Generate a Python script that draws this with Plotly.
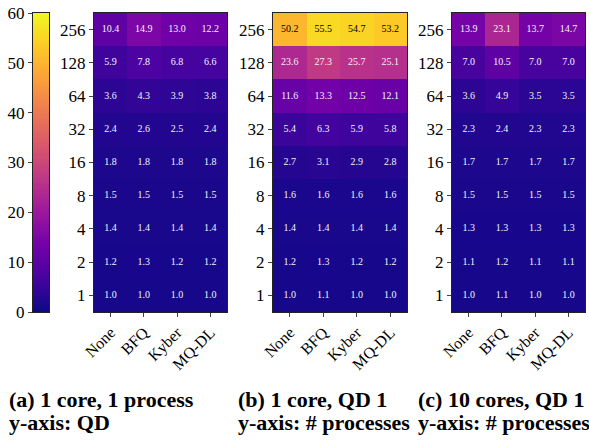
import numpy as np
import plotly.graph_objects as go

# ---------------- data ----------------
schedulers = ["None", "BFQ", "Kyber", "MQ-DL"]
y_labels = ["1", "2", "4", "8", "16", "32", "64", "128", "256"]

# rows ordered bottom (1) to top (256), columns follow `schedulers`
qd_1core_1proc = [
    [1.0, 1.0, 1.0, 1.0],
    [1.2, 1.3, 1.2, 1.2],
    [1.4, 1.4, 1.4, 1.4],
    [1.5, 1.5, 1.5, 1.5],
    [1.8, 1.8, 1.8, 1.8],
    [2.4, 2.6, 2.5, 2.4],
    [3.6, 4.3, 3.9, 3.8],
    [5.9, 7.8, 6.8, 6.6],
    [10.4, 14.9, 13.0, 12.2],
]
procs_1core_qd1 = [
    [1.0, 1.1, 1.0, 1.0],
    [1.2, 1.3, 1.2, 1.2],
    [1.4, 1.4, 1.4, 1.4],
    [1.6, 1.6, 1.6, 1.6],
    [2.7, 3.1, 2.9, 2.8],
    [5.4, 6.3, 5.9, 5.8],
    [11.6, 13.3, 12.5, 12.1],
    [23.6, 27.3, 25.7, 25.1],
    [50.2, 55.5, 54.7, 53.2],
]
procs_10core_qd1 = [
    [1.0, 1.1, 1.0, 1.0],
    [1.1, 1.2, 1.1, 1.1],
    [1.3, 1.3, 1.3, 1.3],
    [1.5, 1.5, 1.5, 1.5],
    [1.7, 1.7, 1.7, 1.7],
    [2.3, 2.4, 2.3, 2.3],
    [3.6, 4.9, 3.5, 3.5],
    [7.0, 10.5, 7.0, 7.0],
    [13.9, 23.1, 13.7, 14.7],
]
panels = [qd_1core_1proc, procs_1core_qd1, procs_10core_qd1]
caption_titles = ["(a) 1 core, 1 process", "(b) 1 core, QD 1", "(c) 10 cores, QD 1"]
caption_subs = ["y-axis: QD", "y-axis: # processes", "y-axis: # processes"]
cbar_min, cbar_max = 0, 60
cbar_ticks = [0, 10, 20, 30, 40, 50, 60]

# ---------------- layout constants ----------------
W, H = 589, 440
SERIF = "Liberation Serif"
top_px, bot_px = 13, 312
y_dom = [1 - bot_px / H, 1 - top_px / H]
cbar_x = [33, 49]
panel_x = [[94, 227], [273, 407], [452, 585]]

fig = go.Figure()

# colorbar as a narrow heatmap
cb_vals = np.linspace(cbar_min, cbar_max, 241)
fig.add_trace(go.Heatmap(
    x=[0], y=cb_vals, z=[[v] for v in cb_vals],
    colorscale="Plasma", zmin=cbar_min, zmax=cbar_max, showscale=False,
    hoverinfo="skip", xaxis="x", yaxis="y"))

axis_common = dict(showline=True, mirror=True, linecolor="#222", linewidth=1,
                   showgrid=False, zeroline=False, ticks="outside", ticklen=4,
                   tickcolor="#444", tickwidth=1, automargin=False)

layout = dict(
    width=W, height=H, margin=dict(l=0, r=0, t=0, b=0, autoexpand=False),
    paper_bgcolor="white", plot_bgcolor="white", showlegend=False,
    font=dict(family=SERIF, color="black"),
    xaxis=dict(domain=[cbar_x[0] / W, cbar_x[1] / W], range=[-0.5, 0.5],
               showticklabels=False, showline=True, mirror=True, linecolor="#222",
               linewidth=1, showgrid=False, zeroline=False, ticks="",
               automargin=False),
    yaxis=dict(domain=y_dom, range=[cbar_min, cbar_max], tickvals=cbar_ticks,
               tickfont=dict(size=17, family=SERIF), anchor="x", **axis_common),
)

for i, (vals, (x0, x1)) in enumerate(zip(panels, panel_x)):
    n = i + 2
    xa, ya = f"x{n}", f"y{n}"
    fig.add_trace(go.Heatmap(
        x=schedulers, y=y_labels, z=vals, colorscale="Plasma",
        zmin=cbar_min, zmax=cbar_max, showscale=False, xgap=0, ygap=0,
        hoverinfo="skip", xaxis=xa, yaxis=ya))
    xs, ys, txt, cols = [], [], [], []
    for r, row in enumerate(vals):
        for c, v in enumerate(row):
            xs.append(schedulers[c]); ys.append(y_labels[r])
            txt.append(f"{v:.1f}")
            cols.append("black" if v > 40 else "#f4f4f4")
    fig.add_trace(go.Scatter(
        x=xs, y=ys, text=txt, mode="text",
        textfont=dict(size=10, family=SERIF, color=cols),
        hoverinfo="skip", xaxis=xa, yaxis=ya))
    layout[f"xaxis{n}"] = dict(domain=[x0 / W, x1 / W], type="category",
                              categoryorder="array", categoryarray=schedulers,
                              tickangle=-45, tickfont=dict(size=16, family=SERIF),
                              anchor=ya, **axis_common)
    layout[f"yaxis{n}"] = dict(domain=y_dom, type="category",
                              categoryorder="array", categoryarray=y_labels,
                              tickfont=dict(size=17, family=SERIF),
                              anchor=xa, **axis_common)

fig.update_layout(**layout)

cap_x = [7, 236, 416]
for cx, t, s in zip(cap_x, caption_titles, caption_subs):
    fig.add_annotation(x=cx / W, y=1 - 399 / H, xref="paper", yref="paper",
                       xanchor="left", yanchor="middle", showarrow=False,
                       text=f"<b>{t}</b>", font=dict(size=22, family=SERIF))
    fig.add_annotation(x=cx / W, y=1 - 422 / H, xref="paper", yref="paper",
                       xanchor="left", yanchor="middle", showarrow=False,
                       text=f"<b>{s}</b>", font=dict(size=22, family=SERIF))

fig.write_html("out.html", config={"displayModeBar": False},
               post_script="document.body.style.margin='0';document.body.style.overflow='hidden';")
